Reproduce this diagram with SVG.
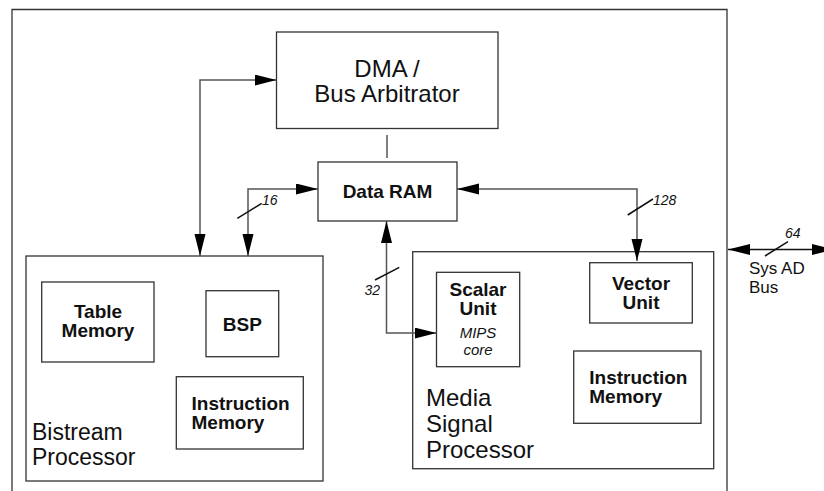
<svg xmlns="http://www.w3.org/2000/svg" width="824" height="491" viewBox="0 0 824 491">
<style>
.box{fill:none;stroke:#333;stroke-width:1.3}
.con{fill:none;stroke:#555;stroke-width:1.5}
.sl{stroke:#111;stroke-width:1.5}
.big{font-family:"Liberation Sans",Arial,sans-serif;font-size:24px;fill:#111}
.bold{font-family:"Liberation Sans",Arial,sans-serif;font-size:19px;font-weight:bold;fill:#111}
.it{font-family:"Liberation Sans",Arial,sans-serif;font-size:14px;font-style:italic;fill:#111}
.med{font-family:"Liberation Sans",Arial,sans-serif;font-size:17px;fill:#111}
.c{text-anchor:middle}
</style>
<defs>
<marker id="ah" markerUnits="userSpaceOnUse" markerWidth="22" markerHeight="12" refX="22" refY="5.5" orient="auto-start-reverse">
<path d="M0,0 L22,5.5 L0,11 z" fill="#000"/>
</marker>
</defs>
<rect width="824" height="491" fill="#fff"/>
<path class="box" d="M12,491 V9.5 H727 V491"/>
<g id="dma">
<rect class="box" x="276.5" y="32" width="221.5" height="96.5"/>
<text class="big c" x="387" y="77">DMA /</text>
<text class="big c" x="387" y="102">Bus Arbitrator</text>
</g>
<g id="dataram">
<rect class="box" x="318" y="162" width="139" height="59"/>
<text class="bold c" x="387.5" y="198">Data RAM</text>
</g>
<g id="bistream">
<rect class="box" x="26" y="256" width="297" height="225"/>
<text class="big" x="32" y="440" style="font-size:23px">Bistream</text>
<text class="big" x="32" y="465" style="font-size:23px">Processor</text>
</g>
<g id="tablemem">
<rect class="box" x="41.7" y="282" width="112.3" height="80"/>
<text class="bold c" x="98" y="318">Table</text>
<text class="bold c" x="98" y="337">Memory</text>
</g>
<g id="bsp">
<rect class="box" x="206" y="290.7" width="72.7" height="66"/>
<text class="bold c" x="242.3" y="331">BSP</text>
</g>
<g id="bp-imem">
<rect class="box" x="176.3" y="376.7" width="127" height="72.3"/>
<text class="bold" x="191.5" y="410">Instruction</text>
<text class="bold" x="191.5" y="429">Memory</text>
</g>
<g id="msp">
<rect class="box" x="412.7" y="251.7" width="301" height="217"/>
<text class="big" x="426" y="406">Media</text>
<text class="big" x="426" y="432">Signal</text>
<text class="big" x="426" y="458">Processor</text>
</g>
<g id="scalar">
<rect class="box" x="436.5" y="272.3" width="83.2" height="94.4"/>
<text class="bold c" x="478" y="296">Scalar</text>
<text class="bold c" x="478" y="315">Unit</text>
<text class="it c" x="478" y="338" style="font-size:15px">MIPS</text>
<text class="it c" x="478" y="355" style="font-size:15px">core</text>
</g>
<g id="vector">
<rect class="box" x="589.7" y="262.7" width="102.6" height="60.3"/>
<text class="bold c" x="641" y="290">Vector</text>
<text class="bold c" x="641" y="309">Unit</text>
</g>
<g id="msp-imem">
<rect class="box" x="573.7" y="351" width="127.3" height="72.3"/>
<text class="bold" x="589.3" y="383.5">Instruction</text>
<text class="bold" x="589.3" y="402.5">Memory</text>
</g>
<g id="sysad">
<text class="med" x="749" y="274">Sys AD</text>
<text class="med" x="749" y="293">Bus</text>
</g>
<g id="connectors">
<path class="con" d="M276.5,80 H200 V256" marker-start="url(#ah)" marker-end="url(#ah)"/>
<path class="con" d="M318,189 H248 V256" marker-start="url(#ah)" marker-end="url(#ah)"/>
<path class="con" d="M457,189 H637 V261" marker-start="url(#ah)" marker-end="url(#ah)"/>
<path class="con" d="M386.5,221 V333 H436.5" marker-start="url(#ah)" marker-end="url(#ah)"/>
<path class="con" d="M387,135 V158"/>
<path class="con" style="stroke:#111" d="M728,249.5 H834" marker-start="url(#ah)" marker-end="url(#ah)"/>
<line class="sl" x1="237.3" y1="218.3" x2="261.7" y2="203.3"/>
<text class="it" x="262" y="205">16</text>
<line class="sl" x1="627.7" y1="215" x2="653" y2="199"/>
<text class="it" x="653" y="205">128</text>
<line class="sl" x1="375" y1="280" x2="399.3" y2="267.3"/>
<text class="it" x="364.5" y="294.5">32</text>
<line class="sl" x1="765" y1="256" x2="788" y2="241.7"/>
<text class="it" x="785" y="237.5">64</text>
</g>
</svg>
